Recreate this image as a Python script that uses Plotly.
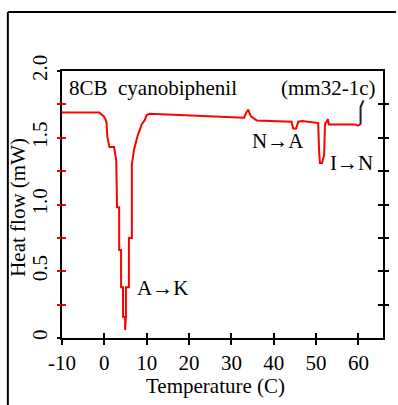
import plotly.graph_objects as go

# ---- data ----
TEMP = [-10, -1.2, -0.5, 0.0, 0.5, 0.7, 1.2, 2.3, 2.8, 3.0, 3.5, 3.5, 3.95, 3.95, 4.4, 4.4,
        4.9, 4.9, 5.1, 5.1, 5.8, 5.8, 6.5, 6.5, 7.0, 7.4, 7.9, 8.4, 8.8, 9.5, 10.0, 10.7,
        22.0, 33.0, 33.5, 33.95, 34.6, 36.0, 44.2, 44.6, 45.3, 45.8, 46.7, 50.5, 50.7,
        50.9, 51.4, 51.9, 52.1, 52.8, 53.0, 59.3, 59.8, 60.5]
HEAT = [1.69, 1.69, 1.67, 1.655, 1.62, 1.51, 1.43, 1.43, 1.33, 0.98, 0.98, 0.66, 0.66, 0.38,
        0.38, 0.16, 0.16, 0.06, 0.16, 0.38, 0.38, 0.75, 0.75, 1.30, 1.41, 1.46, 1.52, 1.56,
        1.60, 1.63, 1.67, 1.68, 1.665, 1.65, 1.69, 1.71, 1.66, 1.63, 1.62, 1.57, 1.57, 1.62,
        1.625, 1.61, 1.41, 1.31, 1.31, 1.37, 1.60, 1.64, 1.60, 1.60, 1.59, 1.60]
END_TEMP = [60.5, 60.5, 61.2]
END_HEAT = [1.60, 1.73, 1.78]

X_TICKS = [-10, 0, 10, 20, 30, 40, 50, 60]
X_LABELS = ["-10", "0", "10", "20", "30", "40", "50", "60"]
Y_TICKS = [0, 0.5, 1.0, 1.5, 2.0]
Y_LABELS = ["0", "0.5", "1.0", "1.5", "2.0"]
Y_MINOR = [0.25, 0.5, 0.75, 1.0, 1.25, 1.5, 1.75]
Y_ENDS = [0, 2.0]

LABELS = [
    ("8CB  cyanobiphenil", -8.9, 1.873, "left"),
    ("(mm32-1c)", 64.5, 1.873, "right"),
    ("N→A", 34.3, 1.476, "left"),
    ("I→N", 52.7, 1.31, "left"),
    ("A→K", 7.3, 0.375, "left"),
]

FONT = "Liberation Serif"
XR = [-10, 65.8]
YR = [0, 2.0]

fig = go.Figure()
fig.add_trace(go.Scatter(x=TEMP, y=HEAT, mode="lines",
                         line=dict(color="#ff0000", width=2), showlegend=False))
fig.add_trace(go.Scatter(x=END_TEMP, y=END_HEAT, mode="lines",
                         line=dict(color="#222222", width=2), showlegend=False))

tf = dict(family=FONT, size=21, color="black")

fig.update_layout(
    width=398, height=405,
    margin=dict(l=62, r=10, t=71, b=67),
    paper_bgcolor="white", plot_bgcolor="white",
    font=tf,
    xaxis=dict(range=XR, tickvals=X_TICKS, ticktext=X_LABELS, ticks="outside",
               ticklen=5, tickwidth=2, tickcolor="black", showline=True,
               linecolor="black", linewidth=2, mirror=True, showgrid=False,
               zeroline=False, tickfont=tf, fixedrange=True),
    xaxis2=dict(range=XR, overlaying="x", anchor="y", tickvals=X_TICKS, ticks="inside",
                ticklen=5, tickwidth=2, tickcolor="black", showticklabels=False,
                showline=False, showgrid=False, zeroline=False),
    yaxis=dict(range=YR, tickvals=Y_TICKS, ticktext=Y_LABELS, ticks="",
               tickangle=-90, ticklabelstandoff=5, showline=True, linecolor="black",
               linewidth=2, mirror=True, showgrid=False, zeroline=False, tickfont=tf),
    yaxis2=dict(range=YR, overlaying="y", anchor="x", side="left", tickvals=Y_MINOR,
                ticks="outside", ticklen=4, tickwidth=2, tickcolor="#ff0000",
                showticklabels=False, showgrid=False, zeroline=False, showline=False),
    yaxis3=dict(range=YR, overlaying="y", anchor="x", side="left", tickvals=Y_MINOR,
                ticks="inside", ticklen=4, tickwidth=2, tickcolor="#ff0000",
                showticklabels=False, showgrid=False, zeroline=False, showline=False),
    yaxis4=dict(range=YR, overlaying="y", anchor="x", side="right", tickvals=Y_MINOR,
                ticks="outside", ticklen=5, tickwidth=2, tickcolor="black",
                showticklabels=False, showgrid=False, zeroline=False, showline=False),
    yaxis5=dict(range=YR, overlaying="y", anchor="x", side="right", tickvals=Y_MINOR,
                ticks="inside", ticklen=5, tickwidth=2, tickcolor="black",
                showticklabels=False, showgrid=False, zeroline=False, showline=False),
    yaxis6=dict(range=YR, overlaying="y", anchor="x", side="left", tickvals=Y_ENDS,
                ticks="outside", ticklen=4, tickwidth=2, tickcolor="black",
                showticklabels=False, showgrid=False, zeroline=False, showline=False),
)

# dummy invisible traces to activate overlay axes
for xa, ya in [("x2", "y"), ("x", "y2"), ("x", "y3"), ("x", "y4"), ("x", "y5"), ("x", "y6")]:
    fig.add_trace(go.Scatter(x=[XR[0]], y=[YR[0]], xaxis=xa, yaxis=ya, mode="markers",
                             marker=dict(opacity=0), showlegend=False, hoverinfo="skip"))

for text, x, y, anchor in LABELS:
    fig.add_annotation(x=x, y=y, xref="x", yref="y", text=text, showarrow=False,
                       xanchor=anchor, yanchor="middle", font=tf)

# axis titles
fig.add_annotation(x=0.478, y=-0.18, xref="paper", yref="paper", text="Temperature (C)",
                   showarrow=False, xanchor="center", yanchor="middle", font=tf)
fig.add_annotation(x=-0.135, y=0.49, xref="paper", yref="paper", text="Heat flow (mW)",
                   showarrow=False, xanchor="center", yanchor="middle", textangle=-90,
                   font=tf)

# outer frame (top and left edges)
fig.add_shape(type="line", xref="paper", yref="paper", x0=-0.1687, x1=1.04, y0=1.221,
              y1=1.221, line=dict(color="black", width=2))
fig.add_shape(type="line", xref="paper", yref="paper", x0=-0.1687, x1=-0.1687, y0=1.221,
              y1=-0.27, line=dict(color="black", width=2))

fig.write_html("out.html")
